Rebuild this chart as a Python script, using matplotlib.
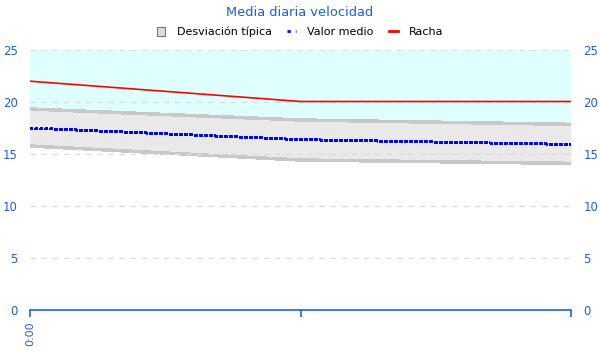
import matplotlib
matplotlib.use("Agg")
import matplotlib.pyplot as plt
from matplotlib.lines import Line2D
from matplotlib.patches import Patch

# ---------------------------------------------------------------- data
hours      = [0, 1, 2]
hour_label = ["0:00", "", ""]
std_top    = [19.33, 18.27, 17.85]
std_bottom = [15.77, 14.42, 14.10]
mean_speed = [17.50, 16.38, 15.92]
gust       = [22.00, 20.05, 20.05]
yticks     = [0, 5, 10, 15, 20, 25]

# ---------------------------------------------------------------- colours
BLUE_TXT = "#1F5FD0"
AXIS     = "#1A66D6"
CYAN     = "#DFFFFF"
BAND     = "#E9E9E9"
BAND_EDG = "#C8C8C8"
GRID     = "#DDDDDD"

fig = plt.figure(figsize=(6, 3.6), dpi=100)
ax = fig.add_axes([30 / 600, 1 - 310 / 360, 541 / 600, 260 / 360])

ax.axhspan(16, 25, color=CYAN, lw=0, zorder=0)
ax.fill_between(hours, std_bottom, std_top, color=BAND, lw=0, zorder=1)
ax.plot(hours, std_top, color=BAND_EDG, lw=1.8, zorder=2, antialiased=False)
ax.plot(hours, std_bottom, color=BAND_EDG, lw=1.8, zorder=2, antialiased=False)

for y in yticks[1:]:
    ax.axhline(y, color=GRID, lw=1, linestyle=(0, (4, 4)), zorder=2.5)

ax.plot(hours, gust, color="#FF0000", lw=1.2, zorder=4)
ax.plot(hours, mean_speed, color="#0000FF", lw=1.6, zorder=4,
        linestyle=(0, (1.1, 0.9)), dash_capstyle="butt", antialiased=False)

ax.set_xlim(hours[0], hours[-1])
ax.set_ylim(0, 25)
ax.set_yticks(yticks)
ax.set_xticks(hours)
ax.set_xticklabels(hour_label, rotation=90, color=BLUE_TXT, fontsize=8)

for s in ("top", "left", "right"):
    ax.spines[s].set_visible(False)
ax.spines["bottom"].set_color(AXIS)
ax.spines["bottom"].set_linewidth(1.2)
ax.tick_params(axis="x", colors=AXIS, length=5, width=1.2, pad=3)
ax.tick_params(axis="x", labelcolor=BLUE_TXT)
ax.tick_params(axis="y", left=False, right=False, labelleft=True,
               labelright=True, labelcolor=BLUE_TXT, labelsize=8.5, pad=5.5)

fig.text(0.5, 1 - 12 / 360, "Media diaria velocidad", color=BLUE_TXT,
         fontsize=9.4, ha="center", va="center")

handles = [
    Patch(facecolor="#DDDDDD", edgecolor="#777777", linewidth=0.8),
    Line2D([], [], color="#0000FF", lw=2, linestyle=(0, (1.2, 1.8))),
    Line2D([], [], color="#FF0000", lw=2),
]
labels = ["Desviación típica", "Valor medio", "Racha"]
fig.legend(handles, labels, loc="center", bbox_to_anchor=(0.5, 1 - 32 / 360),
           ncol=3, frameon=False, fontsize=8, handlelength=0.8,
           handleheight=0.8, columnspacing=1.4, handletextpad=1.0)

fig.savefig("out.png", dpi=100)
